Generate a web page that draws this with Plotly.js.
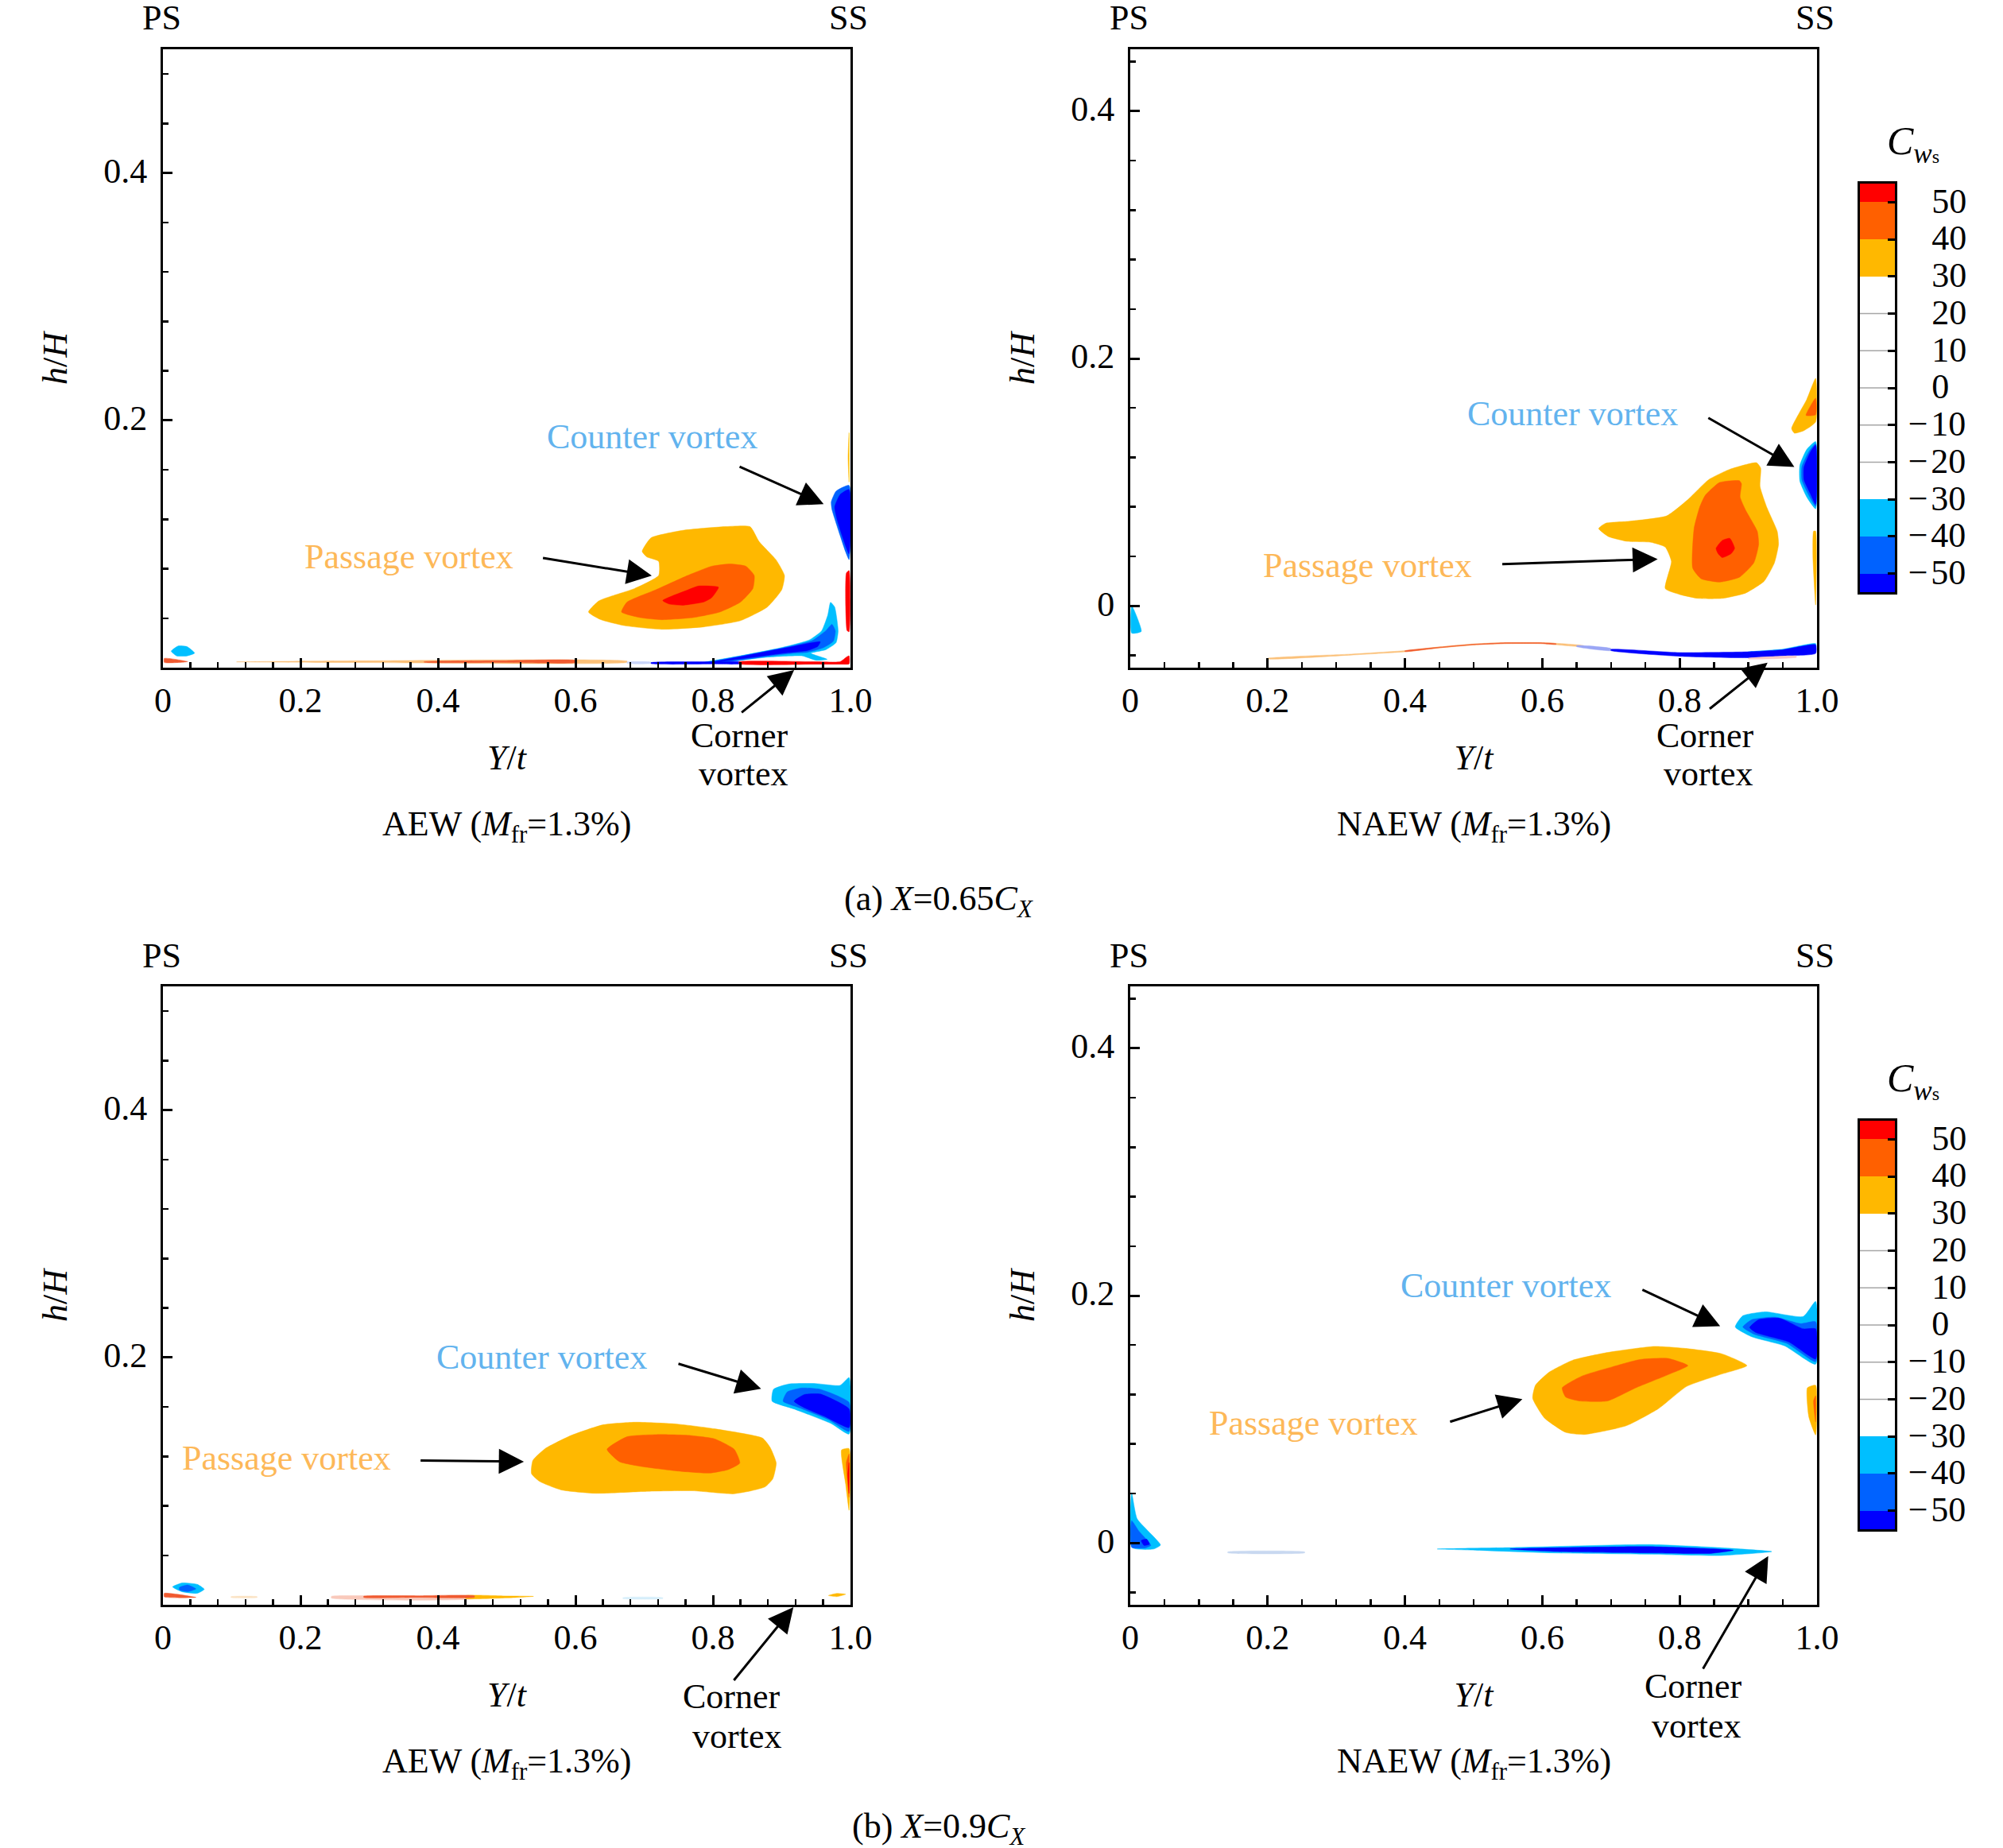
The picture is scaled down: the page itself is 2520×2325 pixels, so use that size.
<!DOCTYPE html>
<html>
<head>
<meta charset="utf-8">
<script src="https://cdn.plot.ly/plotly-3.0.1.min.js"></script>
<style>body { margin: 0; background: #fff; }</style>
</head>
<body>
<div id="chart"></div>
<script>
// contour regions, [Y/t] and [h/H] per polygon

// (a) AEW
const a1AmberX = [.619,.634,.686,.721,.721,.704,.697,.710,.756,.817,.854,.867,.892,.904,.900,.879,.840,.787,.725,.671,.636];
const a1AmberY = [.045,.054,.064,.0745,.086,.0895,.094,.105,.111,.114,.114,.102,.087,.0745,.063,.049,.038,.033,.031,.034,.039];
const a1OrangeX = [.667,.675,.717,.763,.798,.825,.848,.860,.858,.840,.810,.771,.725,.694];
const a1OrangeY = [.045,.053,.063,.0745,.082,.0838,.082,.0745,.064,.053,.045,.0405,.0388,.0405];
const a1RedX = [.727,.763,.779,.808,.798,.787,.756,.736];
const a1RedY = [.0543,.0628,.066,.065,.0565,.0532,.0505,.0515];
const a1CounterMidX = [.972,.979,.998,.998,.993,.979,.973];
const a1CounterMidY = [.134,.1427,.1474,.0873,.0935,.117,.128];
const a1CounterDarkX = [.977,.985,.998,.998,.982];
const a1CounterDarkY = [.130,.140,.144,.092,.117];
const a1EdgeRedX = [.998,.994,.993,.995,.998];
const a1EdgeRedY = [.0785,.0765,.05,.03,.029];
const a1EdgeAmberX = [.998,.9965,.998];
const a1EdgeAmberY = [.19,.17,.15];
const a1CornerLightX = [.783,.840,.898,.940,.958,.967,.971,.977,.982,.979,.964,.942,.966,.950,.929,.879,.821];
const a1CornerLightY = [.0038,.0096,.016,.0224,.0298,.0426,.0528,.049,.0298,.0202,.0145,.0117,.0068,.006,.0096,.0085,.0047];
const a1CornerMidX = [.787,.847,.902,.944,.964,.973,.978,.975,.960,.937,.918,.879,.821];
const a1CornerMidY = [.0038,.0100,.016,.0218,.0298,.0351,.0298,.0213,.0160,.0124,.0117,.0092,.0047];
const a1CornerDarkX = [.798,.856,.906,.956,.952,.937,.902,.860];
const a1CornerDarkY = [.0043,.0106,.016,.0209,.0170,.0138,.0117,.0085];
const a1FloorRedX = [.838,.95,.985,.994,.998,.998,.985,.95,.838];
const a1FloorRedY = [.0047,.0048,.0048,.0085,.0096,.0030,.0028,.0028,.0030];
const a1FloorBlueX = [.71,.80,.84,.84,.80,.71];
const a1FloorBlueY = [.0041,.0047,.0047,.0032,.0030,.0033];
const a1FloorPaleX = [.675,.71,.71,.675];
const a1FloorPaleY = [.0045,.0045,.0035,.0035];
const a1StripAmberX = [.107,.3,.675,.675,.3];
const a1StripAmberY = [.0047,.0056,.0053,.0043,.0041];
const a1StripRedX = [.38,.5,.6,.6,.5,.38];
const a1StripRedY = [.0048,.0057,.0058,.0042,.0041,.0044];
const a1TipRedX = [.002,.036,.002];
const a1TipRedY = [.0075,.0049,.0042];
const a1SpotX = [.012,.022,.035,.046,.035,.02];
const a1SpotY = [.0133,.0175,.0170,.0118,.0095,.0095];

// (a) NAEW
const a2AmberX = [.682,.692,.727,.781,.812,.842,.873,.912,.918,.917,.927,.942,.944,.938,.923,.896,.862,.827,.800,.779,.788,.779,.758,.723,.696];
const a2AmberY = [.0625,.0667,.0684,.0727,.0859,.1019,.1104,.1157,.1114,.0965,.0795,.0603,.0497,.0348,.0199,.0103,.006,.006,.0092,.0139,.0358,.0475,.0514,.0522,.0561];
const a2OrangeX = [.837,.858,.887,.890,.888,.896,.913,.915,.908,.887,.858,.831,.819,.821,.829];
const a2OrangeY = [.0891,.0997,.1012,.0987,.088,.0774,.0603,.0497,.0348,.0231,.0192,.022,.0305,.0625,.0795];
const a2RedX = [.853,.862,.873,.880,.875,.862,.856];
const a2RedY = [.0465,.0529,.0546,.0465,.0422,.039,.0422];
const a2CounterLightX = [.998,.985,.975,.975,.985,.998];
const a2CounterLightY = [.1328,.1264,.1136,.1008,.088,.0784];
const a2CounterMidX = [.998,.988,.978,.978,.988,.998];
const a2CounterMidY = [.131,.1245,.1125,.1018,.0895,.0805];
const a2CounterDarkX = [.998,.990,.981,.981,.990,.998];
const a2CounterDarkY = [.130,.124,.112,.102,.091,.082];
const a2UpperAmberX = [.998,.985,.963,.967,.981,.998];
const a2UpperAmberY = [.1839,.1668,.1434,.1396,.1417,.1487];
const a2UpperOrangeX = [.998,.984,.998];
const a2UpperOrangeY = [.1679,.154,.1545];
const a2EdgeAmberX = [.998,.995,.994,.998];
const a2EdgeAmberY = [.0603,.0603,.04,.0007];
const a2CurveAmberX = [.2,.322,.4,.45,.5,.543,.6,.66,.66,.6,.543,.5,.45,.4,.322,.2];
const a2CurveAmberY = [-.0424,-.0390,-.0362,-.0332,-.0308,-.0297,-.0297,-.0322,-.0330,-.0306,-.0306,-.0317,-.0341,-.0372,-.0398,-.0430];
const a2CurveRedX = [.4,.45,.5,.543,.6,.62,.62,.6,.543,.5,.45,.4];
const a2CurveRedY = [-.0364,-.0334,-.0310,-.0299,-.0299,-.0306,-.0312,-.0305,-.0305,-.0315,-.0339,-.0370];
const a2CurvePaleX = [.65,.70,.70,.65];
const a2CurvePaleY = [-.0322,-.0345,-.0362,-.0330];
const a2CurveLightX = [.9,.95,.998,.998,.95];
const a2CurveLightY = [-.0372,-.0350,-.0305,-.0340,-.0370];
const a2CurveDarkX = [.70,.8,.897,.95,.998,.998,.95,.897,.8,.70];
const a2CurveDarkY = [-.0352,-.0378,-.0372,-.0355,-.0315,-.0385,-.0405,-.042,-.0408,-.0362];
const a2CurvePinkX = [.9,.97,.97,.9];
const a2CurvePinkY = [-.0424,-.0408,-.0416,-.0429];
const a2WedgeX = [.002,.006,.016,.002];
const a2WedgeY = [0,-.004,-.0207,-.0221];

// (b) AEW
const b1AmberX = [.536,.538,.556,.594,.640,.687,.748,.802,.872,.883,.892,.887,.876,.856,.829,.771,.706,.629,.579,.548];
const b1AmberY = [.1061,.1167,.1263,.137,.1455,.1476,.1461,.1423,.1348,.1274,.1146,.1018,.0954,.0922,.0897,.0922,.0918,.0901,.0929,.0997];
const b1OrangeX = [.646,.675,.718,.764,.802,.831,.839,.822,.795,.748,.694,.664];
const b1OrangeY = [.1257,.1359,.1376,.137,.1342,.1257,.1146,.1093,.1065,.1082,.112,.1157];
const b1CounterLightX = [.886,.888,.910,.949,.985,.998,.998,.972,.918];
const b1CounterLightY = [.1646,.1742,.1785,.1789,.1774,.1838,.138,.1465,.1583];
const b1CounterMidX = [.902,.908,.929,.956,.998,.998,.968,.926];
const b1CounterMidY = [.1646,.1721,.1753,.1742,.1636,.1401,.1497,.1593];
const b1CounterDarkX = [.918,.933,.956,.998,.998,.964,.933];
const b1CounterDarkY = [.1646,.17,.1704,.1583,.1433,.1519,.1593];
const b1EdgeAmberX = [.987,.998,.998,.993];
const b1EdgeAmberY = [.1252,.1263,.0763,.0975];
const b1EdgeOrangeX = [.994,.998,.998,.995];
const b1EdgeOrangeY = [.115,.122,.087,.104];
const b1EdgeRedX = [.998,.996,.998];
const b1EdgeRedY = [.115,.105,.09];
const b1StripAmberX = [.44,.5,.539,.5,.44];
const b1StripAmberY = [.0073,.0071,.0068,.0056,.0052];
const b1StripRedX = [.292,.37,.453,.453,.37,.292];
const b1StripRedY = [.0069,.0073,.0073,.0061,.006,.006];
const b1StripPaleX = [.245,.37,.453,.453,.245];
const b1StripPaleY = [.0068,.0067,.0065,.005,.0054];
const b1ShortPaleX = [.099,.137,.137,.099];
const b1ShortPaleY = [.0066,.0066,.0059,.0059];
const b1SpotLightX = [.014,.028,.05,.060,.05,.028];
const b1SpotLightY = [.0145,.0177,.0165,.0125,.0093,.0105];
const b1SpotMidX = [.024,.036,.048,.036,.024];
const b1SpotMidY = [.0140,.0160,.0128,.0106,.0120];
const b1TipRedX = [.002,.048,.002];
const b1TipRedY = [.0093,.006,.0064];
const b1RightAmberX = [.968,.98,.993,.98];
const b1RightAmberY = [.0075,.0092,.0085,.0066];
const b1FaintX = [.669,.727,.727,.669];
const b1FaintY = [.0058,.0058,.005,.005];

// (b) NAEW
const b2AmberX = [.586,.590,.610,.644,.695,.763,.810,.861,.898,.858,.810,.769,.722,.661,.634,.603];
const b2AmberY = [.1169,.1275,.1381,.1477,.154,.1589,.1572,.153,.1434,.136,.1265,.1085,.0947,.0877,.0894,.1011];
const b2OrangeX = [.629,.658,.702,.742,.783,.812,.783,.736,.695,.654,.634];
const b2OrangeY = [.1254,.135,.1424,.1483,.1492,.1434,.136,.1254,.1148,.1148,.118];
const b2CounterLightX = [.881,.892,.925,.980,.998,.998,.953,.905];
const b2CounterLightY = [.1746,.1837,.1869,.1831,.1953,.1445,.1593,.1667];
const b2CounterMidX = [.892,.905,.939,.976,.998,.998,.956,.908];
const b2CounterMidY = [.1746,.1805,.1826,.1773,.1788,.1466,.1614,.1689];
const b2CounterDarkX = [.902,.915,.946,.980,.998,.998,.959,.912];
const b2CounterDarkY = [.1742,.1805,.1816,.1731,.1731,.1487,.1625,.1699];
const b2EdgeAmberX = [.986,.998,.998,.988];
const b2EdgeAmberY = [.1254,.1275,.0873,.1021];
const b2EdgeOrangeX = [.995,.998,.998];
const b2EdgeOrangeY = [.1148,.119,.0979];
const b2WedgeLightX = [.002,.010,.044,.034,.003];
const b2WedgeLightY = [.0407,.0195,-.0017,-.0049,-.0038];
const b2WedgeMidX = [.002,.012,.03,.022,.002];
const b2WedgeMidY = [.018,.01,-.002,-.004,-.0035];
const b2WedgeDarkX = [.016,.024,.028,.02];
const b2WedgeDarkY = [.002,.003,-.001,-.002];
const b2StreakLightX = [.447,.553,.756,.858,.934,.858,.756,.620,.505];
const b2StreakLightY = [-.0049,-.0038,-.0013,-.0038,-.007,-.0102,-.0091,-.0081,-.0059];
const b2StreakDarkX = [.553,.756,.878,.844,.756,.620];
const b2StreakDarkY = [-.0049,-.003,-.0059,-.0085,-.0081,-.007];
const b2FaintX = [.142,.254,.254,.142];
const b2FaintY = [-.0072,-.0072,-.008,-.008];

// arrows: counter, passage, corner
const a1TailX = [.837,.551,.840], a1TailY = [.163,.0888,-.037];
const a1TipX = [.961,.711,.918], a1TipY = [.1322,.0744,-.002];
const a2TailX = [.840,.540,.842], a2TailY = [.1525,.0337,-.084];
const a2TipX = [.967,.768,.928], a2TipY = [.1122,.0378,-.046];
const b1TailX = [.748,.373,.829], b1TailY = [.1952,.1167,-.062];
const b1TipX = [.870,.525,.917], b1TipY = [.1746,.1157,-.002];
const b2TailX = [.744,.464,.833], b2TailY = [.2052,.0977,-.1027];
const b2TipX = [.859,.571,.929], b2TipY = [.1752,.1163,-.0107];

// labels
const labelNames = ['Counter vortex', 'Passage vortex', 'Corner', 'vortex'];
const a1LabelX = [.711,.358,.839,.844], a1LabelY = [.187,.0899,-.0548,-.0857];
const a2LabelX = [.644,.345,.837,.842], a2LabelY = [.1556,.0326,-.1048,-.1357];
const b1LabelX = [.551,.180,.827,.835], b1LabelY = [.2004,.1188,-.0744,-.1064];
const b2LabelX = [.547,.267,.820,.824], b2LabelY = [.2083,.0967,-.1161,-.1481];

// ticks
const xTickVals = [0,.2,.4,.6,.8,1];
const xTickText = ['0','0.2','0.4','0.6','0.8','1.0'];
const aewTickVals = [.2,.4];
const aewTickText = ['0.2','0.4'];
const naewTickVals = [0,.2,.4];
const naewTickText = ['0','0.2','0.4'];

// legend
const scaleEdges = [-55,-50,-40,-30,-20,-10,0,10,20,30,40,50,55];
const scaleIndex = [0,1,2,3,4,5,6,7,8,9,10,11];
const scaleColors = ['#0000ff','#0062ff','#00bfff','#ffffff','#ffffff','#ffffff','#ffffff','#ffffff','#ffffff','#ffb800','#ff6000','#ff0000'];
const scaleTicks = [-50,-40,-30,-20,-10,0,10,20,30,40,50];
const scaleDividers = [-20,-10,0,10,20];

const W = 2520, H = 2325;
const FONT = 'Liberation Serif';
const FS = 44;
const BLUE = '#0000ff', MID = '#0062ff', LIGHT = '#00bfff';
const AMBER = '#ffb800', ORANGE = '#ff6000', RED = '#ff0000', TAIL = '#f05a30', PALE = '#fbc078';

const panels = [
    { xa: 'x', ya: 'y', left: 205, right: 1070, top: 62, bottom: 840, yRange: [0, .5], minorX: .04, yVals: aewTickVals, yText: aewTickText,
      tailX: a1TailX, tailY: a1TailY, tipX: a1TipX, tipY: a1TipY, labelX: a1LabelX, labelY: a1LabelY, name: 'AEW' },
    { xa: 'x2', ya: 'y2', left: 1422, right: 2286, top: 62, bottom: 840, yRange: [-.05, .45], minorX: .05, yVals: naewTickVals, yText: naewTickText,
      tailX: a2TailX, tailY: a2TailY, tipX: a2TipX, tipY: a2TipY, labelX: a2LabelX, labelY: a2LabelY, name: 'NAEW' },
    { xa: 'x3', ya: 'y3', left: 205, right: 1070, top: 1241, bottom: 2019, yRange: [0, .5], minorX: .04, yVals: aewTickVals, yText: aewTickText,
      tailX: b1TailX, tailY: b1TailY, tipX: b1TipX, tipY: b1TipY, labelX: b1LabelX, labelY: b1LabelY, name: 'AEW' },
    { xa: 'x4', ya: 'y4', left: 1422, right: 2286, top: 1241, bottom: 2019, yRange: [-.05, .45], minorX: .05, yVals: naewTickVals, yText: naewTickText,
      tailX: b2TailX, tailY: b2TailY, tipX: b2TipX, tipY: b2TipY, labelX: b2LabelX, labelY: b2LabelY, name: 'NAEW' }
];

const regions = [
    [a1AmberX,a1AmberY,AMBER],[a1OrangeX,a1OrangeY,ORANGE],[a1RedX,a1RedY,RED],
    [a1CounterMidX,a1CounterMidY,MID],[a1CounterDarkX,a1CounterDarkY,BLUE],
    [a1EdgeAmberX,a1EdgeAmberY,AMBER],[a1EdgeRedX,a1EdgeRedY,RED],
    [a1CornerLightX,a1CornerLightY,LIGHT],[a1CornerMidX,a1CornerMidY,MID],[a1CornerDarkX,a1CornerDarkY,BLUE],
    [a1StripAmberX,a1StripAmberY,PALE],[a1StripRedX,a1StripRedY,TAIL],[a1FloorPaleX,a1FloorPaleY,'#c8d4f8'],[a1FloorBlueX,a1FloorBlueY,BLUE],[a1FloorRedX,a1FloorRedY,RED],
    [a1TipRedX,a1TipRedY,TAIL],[a1SpotX,a1SpotY,LIGHT]
].map(r => [...r, 0]).concat([
    [a2AmberX,a2AmberY,AMBER],[a2OrangeX,a2OrangeY,ORANGE],[a2RedX,a2RedY,RED],
    [a2CounterLightX,a2CounterLightY,LIGHT],[a2CounterMidX,a2CounterMidY,MID],[a2CounterDarkX,a2CounterDarkY,BLUE],
    [a2UpperAmberX,a2UpperAmberY,AMBER],[a2UpperOrangeX,a2UpperOrangeY,ORANGE],[a2EdgeAmberX,a2EdgeAmberY,AMBER],
    [a2CurveAmberX,a2CurveAmberY,PALE],[a2CurveRedX,a2CurveRedY,TAIL],[a2CurvePaleX,a2CurvePaleY,'#9aa6f5'],
    [a2CurveLightX,a2CurveLightY,LIGHT],[a2CurveDarkX,a2CurveDarkY,BLUE],[a2CurvePinkX,a2CurvePinkY,'#f5c8c8'],
    [a2WedgeX,a2WedgeY,LIGHT]
].map(r => [...r, 1])).concat([
    [b1AmberX,b1AmberY,AMBER],[b1OrangeX,b1OrangeY,ORANGE],
    [b1CounterLightX,b1CounterLightY,LIGHT],[b1CounterMidX,b1CounterMidY,MID],[b1CounterDarkX,b1CounterDarkY,BLUE],
    [b1EdgeAmberX,b1EdgeAmberY,AMBER],[b1EdgeOrangeX,b1EdgeOrangeY,ORANGE],[b1EdgeRedX,b1EdgeRedY,RED],
    [b1StripPaleX,b1StripPaleY,'#f9c9bb'],[b1ShortPaleX,b1ShortPaleY,'#fbe3c4'],[b1StripAmberX,b1StripAmberY,AMBER],[b1StripRedX,b1StripRedY,TAIL],
    [b1SpotLightX,b1SpotLightY,LIGHT],[b1SpotMidX,b1SpotMidY,MID],
    [b1TipRedX,b1TipRedY,TAIL],[b1RightAmberX,b1RightAmberY,AMBER],[b1FaintX,b1FaintY,'#d6eefa']
].map(r => [...r, 2])).concat([
    [b2AmberX,b2AmberY,AMBER],[b2OrangeX,b2OrangeY,ORANGE],
    [b2CounterLightX,b2CounterLightY,LIGHT],[b2CounterMidX,b2CounterMidY,MID],[b2CounterDarkX,b2CounterDarkY,BLUE],
    [b2EdgeAmberX,b2EdgeAmberY,AMBER],[b2EdgeOrangeX,b2EdgeOrangeY,ORANGE],
    [b2WedgeLightX,b2WedgeLightY,LIGHT],[b2WedgeMidX,b2WedgeMidY,MID],[b2WedgeDarkX,b2WedgeDarkY,BLUE],
    [b2StreakLightX,b2StreakLightY,LIGHT],[b2StreakDarkX,b2StreakDarkY,BLUE],[b2FaintX,b2FaintY,'#c8d8f0']
].map(r => [...r, 3]));

const data = regions.map(([xs, ys, color, p]) => ({
    type: 'scatter',
    mode: 'lines',
    x: xs.concat(xs[0]),
    y: ys.concat(ys[0]),
    xaxis: panels[p].xa,
    yaxis: panels[p].ya,
    fill: 'toself',
    fillcolor: color,
    line: { color: color, width: .5, shape: 'spline', smoothing: .5 },
    hoverinfo: 'skip',
    showlegend: false
}));

const layout = {
    width: W,
    height: H,
    margin: { l: 0, r: 0, t: 0, b: 0 },
    paper_bgcolor: '#fff',
    plot_bgcolor: '#fff',
    font: { family: FONT, size: FS, color: '#000' },
    showlegend: false,
    annotations: []
};

const note = (text, x, y, extra) => layout.annotations.push(Object.assign({
    text: text, x: x, y: y, xref: 'paper', yref: 'paper', showarrow: false,
    xanchor: 'center', yanchor: 'middle', align: 'center', font: { family: FONT, size: FS, color: '#000' }
}, extra || {}));

panels.forEach((p, i) => {
    const suffix = i === 0 ? '' : String(i + 1);
    const w = p.right - p.left, h = p.bottom - p.top;
    const span = p.yRange[1] - p.yRange[0];
    const paperX = v => (p.left + v * w) / W;
    const paperY = v => 1 - (p.bottom - (v - p.yRange[0]) / span * h) / H;

    layout['xaxis' + suffix] = {
        domain: [p.left / W, p.right / W],
        anchor: p.ya,
        range: [0, 1],
        tickmode: 'array', tickvals: xTickVals, ticktext: xTickText,
        ticks: 'inside', ticklen: 12, tickwidth: 3, tickcolor: '#000',
        ticklabelstandoff: 0,
        minor: { dtick: p.minorX, tick0: 0, ticks: 'inside', ticklen: 7, tickwidth: 2.5, tickcolor: '#000', showgrid: false },
        showline: true, linecolor: '#000', linewidth: 3, mirror: true,
        showgrid: false, zeroline: false,
        title: { text: '<i>Y</i>/<i>t</i>', standoff: 33, font: { family: FONT, size: FS } }
    };
    layout['yaxis' + suffix] = {
        domain: [1 - p.bottom / H, 1 - p.top / H],
        anchor: p.xa,
        range: p.yRange,
        tickmode: 'array', tickvals: p.yVals, ticktext: p.yText,
        ticks: 'inside', ticklen: 12, tickwidth: 3, tickcolor: '#000',
        ticklabelstandoff: 8,
        ticklabelshift: -3,
        minor: { dtick: .04, tick0: 0, ticks: 'inside', ticklen: 7, tickwidth: 2.5, tickcolor: '#000', showgrid: false },
        showline: true, linecolor: '#000', linewidth: 3, mirror: true,
        showgrid: false, zeroline: false,
        title: { text: '<i>h</i>/<i>H</i>', standoff: 32, font: { family: FONT, size: FS } }
    };

    // vortex labels and their arrows
    labelNames.forEach((name, k) => {
        note(name, paperX(p.labelX[k]), paperY(p.labelY[k]),
            k < 2 ? { font: { family: FONT, size: FS, color: k === 0 ? '#62b3ee' : '#fdb858' } } : {});
    });
    p.tipX.forEach((tip, k) => {
        layout.annotations.push({
            text: '', xref: 'paper', yref: 'paper',
            x: paperX(tip), y: paperY(p.tipY[k]),
            ax: (p.tailX[k] - tip) * w,
            ay: -(p.tailY[k] - p.tipY[k]) / span * h,
            showarrow: true, arrowhead: 2, arrowsize: 2.1, arrowwidth: 3, arrowcolor: '#000', standoff: 0
        });
    });

    note('PS', paperX(0) - 2 / W, 1 - (p.top - 39) / H);
    note('SS', paperX(1) - 3 / W, 1 - (p.top - 39) / H);
    note(p.name + ' (<i>M</i><sub>fr</sub>=1.3%)', (p.left + p.right) / 2 / W, 1 - (p.bottom + 199) / H);
});

note('(a) <i>X</i>=0.65<i>C</i><sub><i>X</i></sub>', 1181 / W, 1 - 1133 / H);
note('(b) <i>X</i>=0.9<i>C</i><sub><i>X</i></sub>', 1181 / W, 1 - 2300 / H);

// the two level scales, as heatmaps on their own axes
const scaleTickText = scaleTicks.map(v => v < 0 ? '\u2212\u200a' + Math.abs(v) : '\u2007\u200a\u200a' + v);
const dividerX = scaleDividers.flatMap(() => [0, 1, null]);
const dividerY = scaleDividers.flatMap(v => [v, v, null]);
const scaleBoxes = [{ top: 231, bottom: 745, n: 5 }, { top: 1410, bottom: 1924, n: 6 }];

scaleBoxes.forEach(box => {
    data.push({
        type: 'heatmap',
        x: [0, 1],
        y: scaleEdges,
        z: scaleIndex.map(v => [v]),
        zmin: -.5,
        zmax: 11.5,
        colorscale: scaleColors.flatMap((c, i) => [[i / 12, c], [(i + 1) / 12, c]]),
        showscale: false,
        hoverinfo: 'skip',
        xaxis: 'x' + box.n,
        yaxis: 'y' + box.n
    });
    data.push({
        type: 'scatter',
        mode: 'lines',
        x: dividerX,
        y: dividerY,
        line: { color: '#a6a6a6', width: 1.5 },
        hoverinfo: 'skip',
        showlegend: false,
        xaxis: 'x' + box.n,
        yaxis: 'y' + box.n
    });
    layout['xaxis' + box.n] = {
        domain: [2340 / W, 2384 / W],
        anchor: 'y' + box.n,
        range: [0, 1],
        showticklabels: false, ticks: '', showgrid: false, zeroline: false,
        showline: true, linecolor: '#000', linewidth: 3, mirror: true
    };
    layout['yaxis' + box.n] = {
        domain: [1 - box.bottom / H, 1 - box.top / H],
        anchor: 'x' + box.n,
        side: 'right',
        range: [-55, 55],
        tickmode: 'array', tickvals: scaleTicks, ticktext: scaleTickText,
        ticks: 'inside', ticklen: 9, tickwidth: 3, tickcolor: '#000',
        ticklabelstandoff: 5,
        ticklabelshift: -2,
        showgrid: false, zeroline: false,
        showline: true, linecolor: '#000', linewidth: 3, mirror: true
    };
    note('<i>C</i><sub><i>w</i><span style="font-size:24px">s</span></sub>', 2407 / W, 1 - (box.top - 50) / H, { font: { family: FONT, size: 50, color: '#000' } });
});

Plotly.newPlot('chart', data, layout, { displayModeBar: false, staticPlot: true });
</script>
</body>
</html>
